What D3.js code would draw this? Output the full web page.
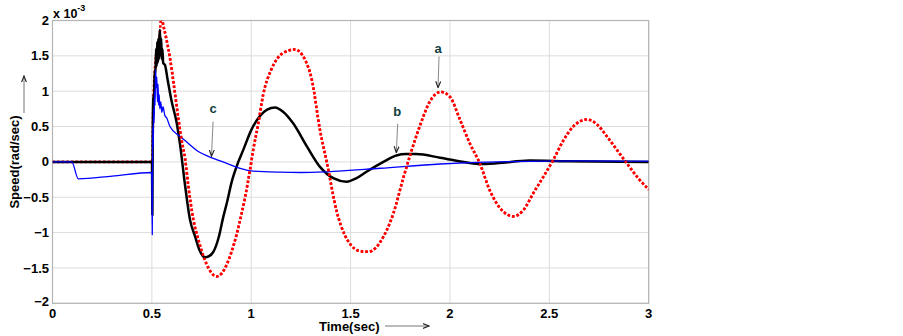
<!DOCTYPE html>
<html>
<head>
<meta charset="utf-8">
<script src="https://cdnjs.cloudflare.com/ajax/libs/d3/7.8.5/d3.min.js"></script>
<style>
  body { margin: 0; background: #fff; }
  svg { display: block; font-family: "Liberation Sans", Arial, sans-serif; }
  .tick-label { font-size: 13px; font-weight: bold; fill: #000; }
</style>
</head>
<body>
<div id="chart"></div>
<script>
// values are in units of 1e-3 rad/sec, time in seconds
var xTicks = [0, 0.5, 1, 1.5, 2, 2.5, 3];
var yTicks = [-2, -1.5, -1, -0.5, 0, 0.5, 1, 1.5, 2];

// curve a: red dotted (rises behind the black spike, peaks just above the top)
var seriesA = [[0, 0], [0.5025, 0], [0.505, 0.5], [0.514, 1.25], [0.527, 1.6], [0.541, 1.85],
  [0.548, 2.1], [0.552, 2.02],
  [0.57, 1.78], [0.591, 1.47], [0.61, 1.1], [0.633, 0.62], [0.65, 0.3], [0.667, 0.05],
  [0.683, -0.33], [0.709, -0.82], [0.734, -1.1], [0.755, -1.3], [0.776, -1.45], [0.8, -1.57],
  [0.826, -1.62], [0.85, -1.58], [0.877, -1.45], [0.9, -1.28], [0.927, -1.02], [0.95, -0.75],
  [0.969, -0.5], [0.994, -0.11], [1.01, 0.17], [1.036, 0.55], [1.06, 0.95], [1.1, 1.3],
  [1.16, 1.54], [1.22, 1.59], [1.27, 1.45], [1.305, 1.16], [1.346, 0.45], [1.38, 0.0],
  [1.43, -0.7], [1.47, -1.03], [1.5, -1.17], [1.545, -1.26], [1.59, -1.27], [1.625, -1.22],
  [1.65, -1.13], [1.715, -0.73], [1.766, -0.22], [1.8, 0.1], [1.85, 0.52], [1.9, 0.86],
  [1.955, 0.99], [2.0, 0.92], [2.05, 0.6], [2.1, 0.26], [2.15, -0.02], [2.2, -0.4],
  [2.26, -0.68], [2.32, -0.77], [2.37, -0.68], [2.42, -0.44], [2.47, -0.21], [2.52, 0.03],
  [2.57, 0.3], [2.62, 0.5], [2.69, 0.6], [2.74, 0.53], [2.79, 0.36], [2.84, 0.17],
  [2.89, -0.02], [2.95, -0.24], [3.0, -0.39]];

// curve b: black solid
var seriesB = [[0, 0], [0.5, 0], [0.501, -0.1], [0.5025, -0.75], [0.504, 0.3], [0.505, 0.55],
  [0.508, 0.95], [0.511, 0.9], [0.514, 1.3], [0.518, 1.25], [0.521, 1.6], [0.524, 1.35],
  [0.527, 1.7], [0.53, 1.4], [0.533, 1.75], [0.536, 1.45], [0.539, 1.8], [0.541, 1.87],
  [0.544, 1.5], [0.547, 1.75], [0.55, 1.45], [0.553, 1.6], [0.557, 1.4], [0.566, 1.37],
  [0.58, 1.15], [0.6, 0.85], [0.625, 0.55], [0.642, 0.24], [0.667, -0.33], [0.692, -0.82],
  [0.717, -1.05], [0.74, -1.25], [0.767, -1.35], [0.79, -1.33], [0.81, -1.27], [0.835, -1.08],
  [0.86, -0.77], [0.88, -0.55], [0.9, -0.3], [0.935, 0.0], [0.96, 0.17], [1.0, 0.45],
  [1.044, 0.65], [1.08, 0.74], [1.12, 0.77], [1.16, 0.71], [1.21, 0.55], [1.28, 0.22],
  [1.346, -0.07], [1.413, -0.23], [1.48, -0.28], [1.53, -0.23], [1.58, -0.14], [1.665, 0.0],
  [1.73, 0.09], [1.78, 0.11], [1.83, 0.11], [1.95, 0.06], [2.085, -0.01], [2.15, -0.03],
  [2.235, -0.02], [2.4, 0.02], [2.59, 0.01], [3.0, 0.0]];

// curve c: blue thin
var seriesC = [[0, 0], [0.097, 0], [0.13, -0.24], [0.3, -0.2], [0.499, -0.15], [0.5005, -0.4],
  [0.502, -1.03], [0.5035, -0.2], [0.505, 0.5], [0.507, 0.2], [0.509, 0.75], [0.511, 0.55],
  [0.514, 1.0], [0.516, 0.8], [0.519, 1.3], [0.522, 1.05], [0.525, 1.2], [0.528, 0.85],
  [0.531, 1.1], [0.534, 0.8], [0.537, 0.95], [0.54, 0.75], [0.545, 0.85], [0.55, 0.7],
  [0.556, 0.78], [0.565, 0.66], [0.575, 0.62], [0.591, 0.5], [0.642, 0.36], [0.68, 0.27],
  [0.726, 0.16], [0.81, 0.05], [0.877, -0.02], [0.944, -0.09], [1.01, -0.13], [1.145, -0.146],
  [1.25, -0.15], [1.38, -0.14], [1.65, -0.09], [1.95, -0.03], [2.1, -0.01], [2.32, 0.005],
  [2.655, 0.014], [3.0, 0.01]];

// annotation letters: text position and arrow start/end, in data units
var notes = [
  { label: 'a', t: 1.94, v: 1.61, from: [1.945, 1.49], to: [1.94, 1.05] },
  { label: 'b', t: 1.734, v: 0.72, from: [1.737, 0.54], to: [1.73, 0.13] },
  { label: 'c', t: 0.808, v: 0.76, from: [0.808, 0.57], to: [0.8, 0.08] }
];

var width = 903, height = 336;
var plotLeft = 52.5, plotRight = 648.7, plotTop = 20.5, plotBottom = 303.3;

var svg = d3.select('#chart').append('svg')
  .attr('width', width)
  .attr('height', height);

var defs = svg.append('defs');
defs.append('clipPath').attr('id', 'plot-clip')
  .append('rect')
  .attr('x', plotLeft).attr('y', plotTop)
  .attr('width', plotRight - plotLeft).attr('height', plotBottom - plotTop);

defs.append('marker')
  .attr('id', 'head')
  .attr('viewBox', '0 0 10 10')
  .attr('refX', 9).attr('refY', 5)
  .attr('markerWidth', 7).attr('markerHeight', 7)
  .attr('markerUnits', 'userSpaceOnUse')
  .attr('orient', 'auto')
  .append('path')
  .attr('d', 'M0,1.5 L9,5 L0,8.5')
  .attr('fill', 'none')
  .attr('stroke', '#222')
  .attr('stroke-width', 1.6);

var x = d3.scaleLinear().domain([0, 3]).range([plotLeft, plotRight]);
var y = d3.scaleLinear().domain([-2, 2]).range([plotBottom, plotTop]);

// grid
svg.append('g').selectAll('line').data(xTicks).enter().append('line')
  .attr('x1', function (d) { return x(d); })
  .attr('x2', function (d) { return x(d); })
  .attr('y1', plotTop).attr('y2', plotBottom)
  .attr('stroke', '#dcdcdc').attr('stroke-width', 1);

svg.append('g').selectAll('line').data(yTicks).enter().append('line')
  .attr('y1', function (d) { return y(d); })
  .attr('y2', function (d) { return y(d); })
  .attr('x1', plotLeft).attr('x2', plotRight)
  .attr('stroke', '#dcdcdc').attr('stroke-width', 1);

// box
svg.append('rect')
  .attr('x', plotLeft).attr('y', plotTop)
  .attr('width', plotRight - plotLeft).attr('height', plotBottom - plotTop)
  .attr('fill', 'none')
  .attr('stroke', '#b4b4b4')
  .attr('stroke-width', 1.2);

// tick labels
svg.append('g').selectAll('text').data(xTicks).enter().append('text')
  .attr('class', 'tick-label')
  .attr('x', function (d) { return x(d); })
  .attr('y', 313)
  .attr('dy', '0.35em')
  .attr('text-anchor', 'middle')
  .text(function (d) { return d3.format('~g')(d); });

svg.append('g').selectAll('text').data(yTicks).enter().append('text')
  .attr('class', 'tick-label')
  .attr('x', plotLeft - 3.5)
  .attr('y', function (d) { return d === -2 ? y(d) - 2 : y(d); })
  .attr('dy', '0.35em')
  .attr('text-anchor', 'end')
  .text(function (d) { return d3.format('~g')(d); });

// exponent
var expo = svg.append('text')
  .attr('x', 53).attr('y', 17.5)
  .attr('font-size', 12.5).attr('font-weight', 'bold');
expo.append('tspan').text('x 10');
expo.append('tspan').attr('font-size', 9).attr('dy', -7).text('-3');

// axis titles with arrows
svg.append('text')
  .attr('transform', 'translate(19,162)rotate(-90)')
  .attr('text-anchor', 'middle')
  .attr('font-size', 13).attr('font-weight', 'bold')
  .text('Speed(rad/sec)');

svg.append('line')
  .attr('x1', 24).attr('y1', 113).attr('x2', 24).attr('y2', 76)
  .attr('stroke', '#777').attr('stroke-width', 1)
  .attr('marker-end', 'url(#head)');

svg.append('text')
  .attr('x', 319).attr('y', 331)
  .attr('font-size', 13).attr('font-weight', 'bold')
  .text('Time(sec)');

svg.append('line')
  .attr('x1', 385).attr('y1', 326).attr('x2', 429).attr('y2', 326)
  .attr('stroke', '#777').attr('stroke-width', 1)
  .attr('marker-end', 'url(#head)');

// curves
var line = d3.line()
  .x(function (d) { return x(d[0]); })
  .y(function (d) { return y(d[1]); })
  .curve(d3.curveMonotoneX);

var plot = svg.append('g').attr('clip-path', 'url(#plot-clip)');

plot.append('path').datum(seriesA)
  .attr('d', line)
  .attr('fill', 'none')
  .attr('stroke', '#ff0000')
  .attr('stroke-width', 2.6)
  .attr('stroke-dasharray', '2.4,2.2');

plot.append('path').datum(seriesB)
  .attr('d', line)
  .attr('fill', 'none')
  .attr('stroke', '#000')
  .attr('stroke-width', 2.5)
  .attr('stroke-linejoin', 'round');

plot.append('path').datum(seriesC)
  .attr('d', line)
  .attr('fill', 'none')
  .attr('stroke', '#0000ff')
  .attr('stroke-width', 1.3)
  .attr('stroke-linejoin', 'round');

// red dots redrawn on top after the spike so they sit over the other curves
plot.append('path').datum(seriesA.filter(function (d) { return d[0] >= 0.548; }))
  .attr('d', line)
  .attr('fill', 'none')
  .attr('stroke', '#ff0000')
  .attr('stroke-width', 2.6)
  .attr('stroke-dasharray', '2.4,2.2');

// annotations
var note = svg.append('g').selectAll('g').data(notes).enter().append('g');

note.append('text')
  .attr('x', function (d) { return x(d.t); })
  .attr('y', function (d) { return y(d.v); })
  .attr('dy', '0.35em')
  .attr('text-anchor', 'middle')
  .attr('font-size', 13).attr('font-weight', 'bold')
  .attr('fill', '#0f3c3c')
  .text(function (d) { return d.label; });

note.append('line')
  .attr('x1', function (d) { return x(d.from[0]); })
  .attr('y1', function (d) { return y(d.from[1]); })
  .attr('x2', function (d) { return x(d.to[0]); })
  .attr('y2', function (d) { return y(d.to[1]); })
  .attr('stroke', '#888').attr('stroke-width', 1)
  .attr('marker-end', 'url(#head)');
</script>
</body>
</html>
